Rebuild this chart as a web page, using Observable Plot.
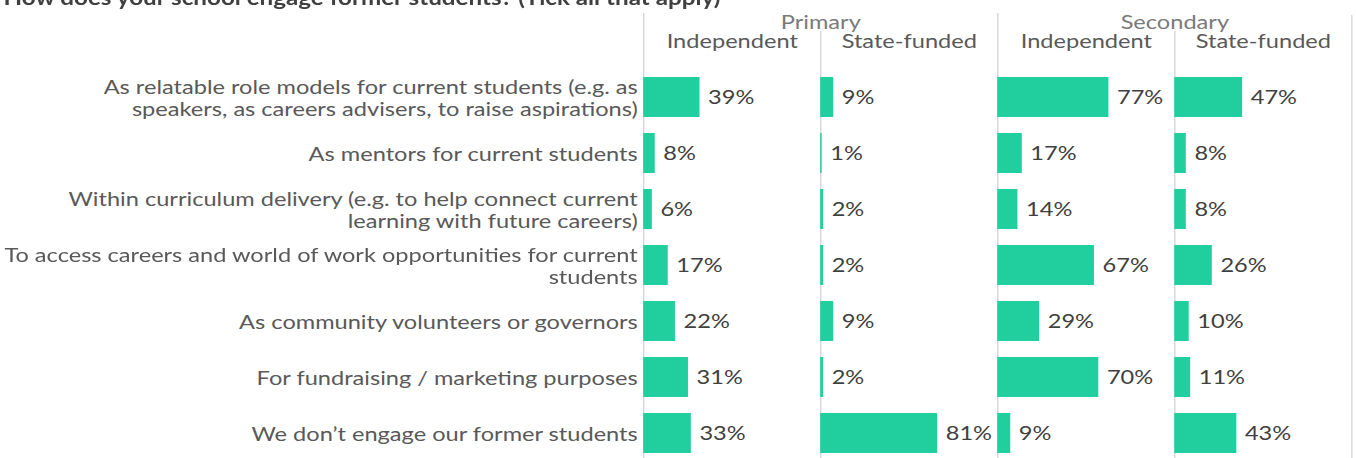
<!DOCTYPE html>
<html>
<head>
<meta charset="utf-8">
<script src="https://cdn.jsdelivr.net/npm/d3@7"></script>
<script src="https://cdn.jsdelivr.net/npm/@observablehq/plot@0.6"></script>
<style>
  html, body { margin: 0; padding: 0; background: #fff; overflow: hidden; width: 1356px; height: 458px; }
  #stage { position: absolute; left: 0; top: 0; width: 1149px; height: 472px; transform-origin: 0 0; }
  #title { position: absolute; left: 3px; top: -13px; font: bold 20.5px Lato, sans-serif; line-height: 20px; color: #404040; white-space: nowrap; }
  #chart { position: absolute; left: 0; top: 0; }
</style>
</head>
<body>
<div id="stage">
  <div id="chart"></div>
  <div id="title">How does your school engage former students? (Tick all that apply)</div>
</div>
<script>
// Categories (rows) and their displayed labels
const categories = [
  "As relatable role models for current students (e.g. as speakers, as careers advisers, to raise aspirations)",
  "As mentors for current students",
  "Within curriculum delivery (e.g. to help connect current learning with future careers)",
  "To access careers and world of work opportunities for current students",
  "As community volunteers or governors",
  "For fundraising / marketing purposes",
  "We don’t engage our former students"
];
const categoryLabels = [
  "As relatable role models for current students (e.g. as\nspeakers, as careers advisers, to raise aspirations)",
  "As mentors for current students",
  "Within curriculum delivery (e.g. to help connect current\nlearning with future careers)",
  "To access careers and world of work opportunities for current\nstudents",
  "As community volunteers or governors",
  "For fundraising / marketing purposes",
  "We don’t engage our former students"
];

// Panels
const panels = ["Primary|Independent", "Primary|State-funded", "Secondary|Independent", "Secondary|State-funded"];
const phases = ["Primary", "Primary", "Secondary", "Secondary"];
const sectors = ["Independent", "State-funded", "Independent", "State-funded"];

// Values (%)
const primaryIndependent = [39, 8, 6, 17, 22, 31, 33];
const primaryStateFunded = [9, 1, 2, 2, 9, 2, 81];
const secondaryIndependent = [77, 17, 14, 67, 29, 70, 9];
const secondaryStateFunded = [47, 8, 8, 26, 10, 11, 43];

const series = [primaryIndependent, primaryStateFunded, secondaryIndependent, secondaryStateFunded];
const data = panels.flatMap((p, i) => categories.map((c, j) => ({panel: p, category: c, value: series[i][j]})));
const panelInfo = panels.map((p, i) => ({panel: p, phase: phases[i], sector: sectors[i]}));
const groupStarts = panelInfo.filter(d => d.sector === "Independent");
const groupSeconds = panelInfo.filter(d => d.sector === "State-funded");
const lastPanel = panelInfo.slice(-1);
const labelOf = new Map(categories.map((c, i) => [c, categoryLabels[i]]));

const XMAX = 122.6;
const PAGE_W = 1356;
const W = 1149;               // drawing width before horizontal stretch
const S = PAGE_W / W;         // horizontal stretch of the reference rendering

const chart = Plot.plot({
  width: W,
  height: 472,
  marginLeft: 642 / S,
  marginRight: 3 / S,
  marginTop: 59,
  marginBottom: 0,
  style: {fontFamily: "Lato, sans-serif", fontSize: "20px", background: "white", overflow: "visible"},
  fx: {domain: panels, padding: 0, axis: null},
  x: {domain: [0, XMAX], axis: null},
  y: {domain: categories, padding: 0.28, axis: null},
  marks: [
    Plot.ruleX(groupStarts, {fx: "panel", x: () => 0, stroke: "#cfcfcf", insetTop: -46}),
    Plot.ruleX(groupSeconds, {fx: "panel", x: () => 0, stroke: "#cfcfcf", insetTop: -28}),
    Plot.ruleX(lastPanel, {fx: "panel", x: () => XMAX, stroke: "#cfcfcf", insetTop: -44}),
    Plot.barX(data, {fx: "panel", y: "category", x: "value", fill: "#20CE9E"}),
    Plot.text(data, {fx: "panel", y: "category", x: "value", text: d => d.value + "%", textAnchor: "start", dx: 8 / S, fill: "#404040", fontSize: 20}),
    Plot.text(panelInfo, {fx: "panel", frameAnchor: "top", lineAnchor: "bottom", dy: -12, text: "sector", fill: "#595959", fontSize: 20}),
    Plot.text(groupStarts, {fx: "panel", frameAnchor: "top-right", textAnchor: "middle", lineAnchor: "bottom", dy: -31, text: "phase", fill: "#7a7a7a", fontSize: 20}),
    Plot.axisY({tickSize: 0, tickPadding: 6 / S, label: null, tickFormat: c => labelOf.get(c), fill: "#595959", fontSize: 20, lineHeight: 1.1})
  ]
});
document.getElementById("chart").appendChild(chart);
document.getElementById("stage").style.transform = `scaleX(${S})`;
</script>
</body>
</html>
